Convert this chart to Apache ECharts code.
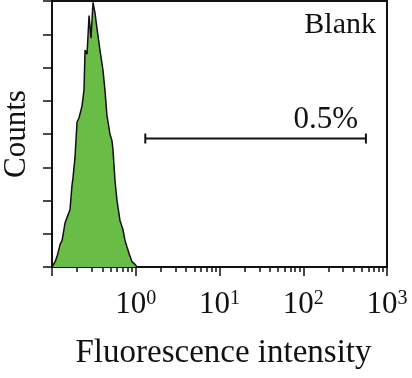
<!DOCTYPE html>
<html>
<head>
<meta charset="utf-8">
<script src="https://cdn.jsdelivr.net/npm/echarts@6/dist/echarts.min.js"></script>
<style>html,body{margin:0;padding:0;background:#fff}#c{width:412px;height:378px}</style>
</head>
<body>
<div id="c"></div>
<script>
const binX = [0.100,0.103,0.109,0.115,0.125,0.132,0.143,0.155,0.164,0.173,0.178,0.188,0.199,0.210,0.216,0.228,0.241,0.248,0.262,0.277,0.292,0.309,0.326,0.345,0.354,0.374,0.406,0.429,0.453,0.492,0.520,0.535,0.565,0.597,0.648,0.704,0.744,0.786,0.854,0.902,0.980,1.035];
const counts = [0,0,4,8,17,20,33,39,43,61,67,82,109,112,115,121,133,163,160,189,172,199,191,179,178,163,148,133,114,100,95,88,65,50,35,28,20,15,8,4,2,0];
const gateX = [1.30, 560];
const gateY = 96.6;
const gateLabel = '0.5%';
const sampleName = 'Blank';
const xName = 'Fluorescence intensity';
const yName = 'Counts';

const FONT = 'Liberation Serif';
const chart = echarts.init(document.getElementById('c'));
chart.setOption({
  animation: false,
  title: {
    text: sampleName, right: 31, top: 5,
    textStyle: {fontFamily: FONT, fontSize: 30, fontWeight: 'normal', color: '#111'}
  },
  grid: {left: 52, right: 25, top: 1, bottom: 111, outerBoundsMode: 'none', containLabel: false,
    show: true, borderColor: '#111', borderWidth: 2, backgroundColor: 'transparent'},
  xAxis: {
    type: 'log', logBase: 10, min: 0.1, max: 1000,
    name: xName, nameLocation: 'middle', nameGap: 70,
    nameTextStyle: {fontFamily: FONT, fontSize: 33, color: '#111', padding: [0, 0, 0, 8]},
    axisLine: {lineStyle: {color: '#111', width: 2}},
    axisTick: {show: true, inside: false, length: 9, lineStyle: {color: '#111', width: 1.5}},
    minorTick: {show: true, splitNumber: 9, length: 5, lineStyle: {color: '#111', width: 1.5}},
    splitLine: {show: false},
    axisLabel: {
      margin: 22,
      formatter: function (v) {
        const e = Math.round(Math.log10(v));
        if (e < 0) return '';
        return '{b|10}{s|' + e + '}';
      },
      rich: {
        b: {fontFamily: FONT, fontSize: 31, lineHeight: 31, color: '#111'},
        s: {fontFamily: FONT, fontSize: 20, lineHeight: 20, color: '#111', verticalAlign: 'top'}
      }
    }
  },
  yAxis: {
    type: 'value', min: 0, max: 200, interval: 25,
    name: yName, nameLocation: 'middle', nameGap: 20,
    nameTextStyle: {fontFamily: FONT, fontSize: 31, color: '#111'},
    axisLine: {show: true, lineStyle: {color: '#111', width: 2}},
    axisTick: {show: true, inside: false, length: 9, lineStyle: {color: '#111', width: 1.5}},
    axisLabel: {show: false},
    splitLine: {show: false}
  },
  series: [
    {
      type: 'line',
      data: binX.map((x, i) => [x, counts[i]]),
      symbol: 'none',
      lineStyle: {color: '#111', width: 1.5},
      areaStyle: {color: '#69bc45', opacity: 1}
    },
    {
      type: 'line',
      data: [
        [gateX[0], gateY],
        {value: [gateX[1], gateY], label: {show: true, formatter: gateLabel, position: 'top', offset: [-40, 7],
          fontFamily: FONT, fontSize: 31, color: '#111'}}
      ],
      symbol: 'rect', symbolSize: [2, 10],
      itemStyle: {color: '#111'},
      lineStyle: {color: '#111', width: 2}
    }
  ]
});
</script>
</body>
</html>
